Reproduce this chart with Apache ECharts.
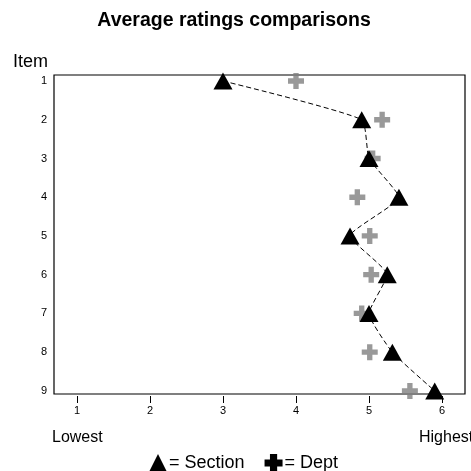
<!DOCTYPE html>
<html><head><meta charset="utf-8">
<script src="https://cdn.jsdelivr.net/npm/echarts@6/dist/echarts.min.js"></script>
<style>html,body{margin:0;padding:0;background:#fff}#c{width:471px;height:471px}</style>
</head><body><div id="c"></div>
<script>
const items = [1,2,3,4,5,6,7,8,9];
const sectionValues = [3.0, 4.90, 5.0, 5.41, 4.74, 5.25, 5.0, 5.32, 5.90];
const deptValues = [4.0, 5.18, 5.05, 4.84, 5.01, 5.03, 4.90, 5.01, 5.56];
const xTicks = [1,2,3,4,5,6];
const yTicks = [1,2,3,4,5,6,7,8,9];

const plusPath = 'path://M3,0H6V3H9V6H6V9H3V6H0V3H3Z';
const plusLegend = 'path://M3,0H7V3H10V7H7V10H3V7H0V3H3Z';
const F = 'Liberation Sans, Arial, sans-serif';
const chart = echarts.init(document.getElementById('c'), null, {renderer:'canvas'});
chart.setOption({
  animation:false,
  backgroundColor:'#fff',
  title:{text:'Average ratings comparisons', left:229, textAlign:'center', top:6,
    textStyle:{fontFamily:F, fontSize:19.5, fontWeight:'bold', color:'#000'}},
  grid:{left:54, right:6, top:75, bottom:77, show:true, borderColor:'#000', borderWidth:1.2, backgroundColor:'transparent'},
  xAxis:{type:'value', min:0.685, max:6.315, offset:2,
    axisLine:{show:false}, splitLine:{show:false},
    axisTick:{show:true, length:7, lineStyle:{color:'#000', width:1}, customValues:xTicks},
    axisLabel:{customValues:xTicks, margin:9, fontFamily:F, fontSize:11, color:'#000'}},
  yAxis:{type:'value', inverse:true, min:0.845, max:9.08,
    axisLine:{show:false}, splitLine:{show:false}, axisTick:{show:false},
    axisLabel:{customValues:yTicks, margin:7, fontFamily:F, fontSize:11, color:'#000'}},
  legend:{left:144, top:449, itemWidth:18, itemHeight:18, itemGap:20,
    textStyle:{fontFamily:F, fontSize:18, color:'#000', padding:[0,0,0,-3]},
    formatter:'= {name}',
    data:[{name:'Section', icon:'triangle', itemStyle:{color:'#000', opacity:1}},
          {name:'Dept', icon:plusLegend, itemStyle:{color:'#000', borderWidth:0, opacity:1}}]},
  graphic:[
    {type:'text', left:13, top:53, style:{text:'Item', font:'18px '+F, fill:'#000'}},
    {type:'text', left:52, top:430, style:{text:'Lowest', font:'16px '+F, fill:'#000'}},
    {type:'text', left:419, top:430, style:{text:'Highest', font:'16px '+F, fill:'#000'}}
  ],
  series:[
    {name:'Dept', type:'scatter', symbol:plusPath, symbolSize:16, z:2,
      itemStyle:{color:'#808080'},
      data:items.map((it,i)=>[deptValues[i], it])},
    {name:'Section', type:'line', symbol:'triangle', symbolSize:[19,17], showSymbol:true, z:3,
      smooth:0.15,
      itemStyle:{color:'#000'}, lineStyle:{color:'#000', width:1, type:[5,3]},
      data:items.map((it,i)=>[sectionValues[i], it])}
  ]
});
</script></body></html>
